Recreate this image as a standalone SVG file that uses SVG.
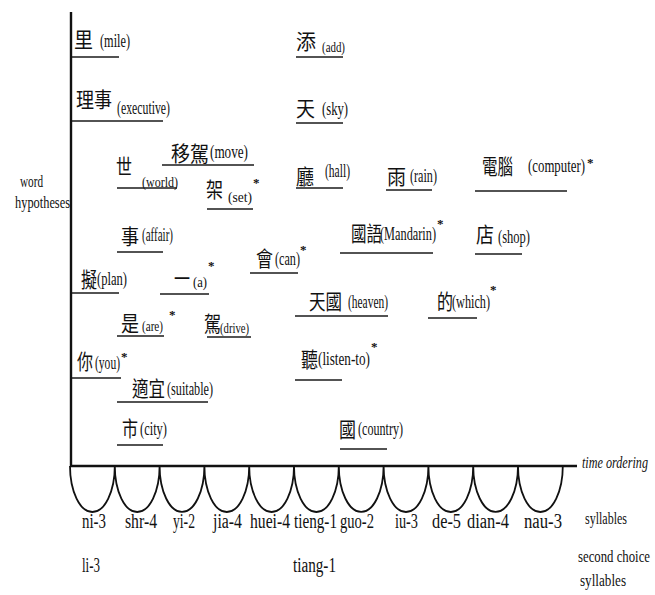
<svg xmlns="http://www.w3.org/2000/svg" width="655" height="595" viewBox="0 0 655 595">
<style>
.ax{stroke:#111;stroke-width:2.4;fill:none}
.arc{stroke:#111;stroke-width:1.8;fill:none}
.ul{stroke:#1a1a1a;stroke-width:1.7}
.cjk{font-family:"Noto Sans CJK TC","Noto Sans CJK SC",sans-serif;font-size:21px;fill:#111}
.en{font-family:"Liberation Serif",serif;font-size:18px;fill:#111}
.sm{font-size:15px}
.st{font-family:"Liberation Serif",serif;font-size:13px;fill:#111;font-weight:bold}
.sy{font-family:"Liberation Serif",serif;font-size:20px;fill:#111}
.lb{font-family:"Liberation Serif",serif;font-size:17px;fill:#111}
.it{font-style:italic}
</style>
<rect width="655" height="595" fill="#fff"/>
<g id="axes">
<line class="ax" x1="71" y1="12" x2="71" y2="467"/>
<line class="ax" x1="70" y1="466" x2="577" y2="466"/>
<path class="arc" d="M70,466 A22.4,46 0 0,0 114.8,466 A22.4,46 0 0,0 159.6,466 A22.4,46 0 0,0 204.4,466 A22.4,46 0 0,0 249.2,466 A22.4,46 0 0,0 294,466 A22.4,46 0 0,0 338.8,466 A22.4,46 0 0,0 383.6,466 A22.4,46 0 0,0 428.4,466 A22.4,46 0 0,0 473.2,466 A22.4,46 0 0,0 518,466 A22.4,46 0 0,0 562.8,466"/>
</g>
<g id="axis-labels">
<text class="lb" x="20" y="187" textLength="23" lengthAdjust="spacingAndGlyphs">word</text>
<text class="lb" x="15" y="208" textLength="55" lengthAdjust="spacingAndGlyphs">hypotheses</text>
<text class="lb it" x="582" y="468" textLength="66" lengthAdjust="spacingAndGlyphs">time ordering</text>
<text class="lb" x="585" y="524" textLength="42" lengthAdjust="spacingAndGlyphs">syllables</text>
<text class="lb" x="578" y="562" textLength="72" lengthAdjust="spacingAndGlyphs">second choice</text>
<text class="lb" x="580" y="586" textLength="46" lengthAdjust="spacingAndGlyphs">syllables</text>
</g>
<g id="syllables">
<text class="sy" x="82" y="528" textLength="24" lengthAdjust="spacingAndGlyphs">ni-3</text>
<text class="sy" x="125" y="528" textLength="32" lengthAdjust="spacingAndGlyphs">shr-4</text>
<text class="sy" x="173" y="528" textLength="22" lengthAdjust="spacingAndGlyphs">yi-2</text>
<text class="sy" x="213" y="528" textLength="29" lengthAdjust="spacingAndGlyphs">jia-4</text>
<text class="sy" x="250" y="528" textLength="40" lengthAdjust="spacingAndGlyphs">huei-4</text>
<text class="sy" x="294" y="528" textLength="43" lengthAdjust="spacingAndGlyphs">tieng-1</text>
<text class="sy" x="340" y="528" textLength="34" lengthAdjust="spacingAndGlyphs">guo-2</text>
<text class="sy" x="395" y="528" textLength="23" lengthAdjust="spacingAndGlyphs">iu-3</text>
<text class="sy" x="432" y="528" textLength="29" lengthAdjust="spacingAndGlyphs">de-5</text>
<text class="sy" x="467" y="528" textLength="42" lengthAdjust="spacingAndGlyphs">dian-4</text>
<text class="sy" x="524" y="528" textLength="38" lengthAdjust="spacingAndGlyphs">nau-3</text>
<text class="sy" x="82" y="572" textLength="18" lengthAdjust="spacingAndGlyphs">li-3</text>
<text class="sy" x="293" y="572" textLength="43" lengthAdjust="spacingAndGlyphs">tiang-1</text>
</g>
<g id="w-mile"><text class="cjk" x="74" y="47" textLength="19" lengthAdjust="spacingAndGlyphs">里</text><text class="en" x="100" y="47" textLength="30" lengthAdjust="spacingAndGlyphs">(mile)</text><line class="ul" x1="72" y1="57" x2="119" y2="57"/></g>
<g id="w-executive"><text class="cjk" x="76" y="107" textLength="36" lengthAdjust="spacingAndGlyphs">理事</text><text class="en" x="117" y="114" textLength="53" lengthAdjust="spacingAndGlyphs">(executive)</text><line class="ul" x1="72" y1="121" x2="163" y2="121"/></g>
<g id="w-world"><text class="cjk" x="116" y="174" textLength="16" lengthAdjust="spacingAndGlyphs">世</text><text class="en sm" x="142" y="187" textLength="36" lengthAdjust="spacingAndGlyphs">(world)</text><line class="ul" x1="117" y1="188" x2="177" y2="188"/></g>
<g id="w-move"><text class="cjk" x="171" y="161" textLength="38" lengthAdjust="spacingAndGlyphs">移駕</text><text class="en" x="210" y="158" textLength="38" lengthAdjust="spacingAndGlyphs">(move)</text><line class="ul" x1="162" y1="165" x2="254" y2="165"/></g>
<g id="w-set"><text class="cjk" x="206" y="197" textLength="17" lengthAdjust="spacingAndGlyphs">架</text><text class="en sm" x="228" y="202" textLength="24" lengthAdjust="spacingAndGlyphs">(set)</text><text class="st" x="253" y="187">*</text><line class="ul" x1="207" y1="209" x2="253" y2="209"/></g>
<g id="w-affair"><text class="cjk" x="121" y="244" textLength="18" lengthAdjust="spacingAndGlyphs">事</text><text class="en" x="142" y="241" textLength="31" lengthAdjust="spacingAndGlyphs">(affair)</text><line class="ul" x1="117" y1="252" x2="163" y2="252"/></g>
<g id="w-plan"><text class="cjk" x="81" y="287" textLength="16" lengthAdjust="spacingAndGlyphs">擬</text><text class="en" x="97" y="285" textLength="30" lengthAdjust="spacingAndGlyphs">(plan)</text><line class="ul" x1="72" y1="293" x2="119" y2="293"/></g>
<g id="w-a"><text class="cjk" x="174" y="286" textLength="16" lengthAdjust="spacingAndGlyphs">一</text><text class="en sm" x="193" y="287" textLength="14" lengthAdjust="spacingAndGlyphs">(a)</text><text class="st" x="208" y="270">*</text><line class="ul" x1="160" y1="294" x2="209" y2="294"/></g>
<g id="w-can"><text class="cjk" x="256" y="266" textLength="17" lengthAdjust="spacingAndGlyphs">會</text><text class="en" x="275" y="265" textLength="25" lengthAdjust="spacingAndGlyphs">(can)</text><text class="st" x="300" y="254">*</text><line class="ul" x1="250" y1="273" x2="298" y2="273"/></g>
<g id="w-are"><text class="cjk" x="121" y="331" textLength="18" lengthAdjust="spacingAndGlyphs">是</text><text class="en sm" x="142" y="331" textLength="21" lengthAdjust="spacingAndGlyphs">(are)</text><text class="st" x="169" y="319">*</text><line class="ul" x1="117" y1="336" x2="164" y2="336"/></g>
<g id="w-drive"><text class="cjk" x="204" y="331" textLength="17" lengthAdjust="spacingAndGlyphs">駕</text><text class="en sm" x="220" y="333" textLength="29" lengthAdjust="spacingAndGlyphs">(drive)</text><line class="ul" x1="207" y1="337" x2="251" y2="337"/></g>
<g id="w-you"><text class="cjk" x="77" y="369" textLength="16" lengthAdjust="spacingAndGlyphs">你</text><text class="en" x="95" y="369" textLength="25" lengthAdjust="spacingAndGlyphs">(you)</text><text class="st" x="121" y="361">*</text><line class="ul" x1="72" y1="378" x2="121" y2="378"/></g>
<g id="w-suitable"><text class="cjk" x="132" y="396" textLength="33" lengthAdjust="spacingAndGlyphs">適宜</text><text class="en" x="167" y="395" textLength="46" lengthAdjust="spacingAndGlyphs">(suitable)</text><line class="ul" x1="117" y1="402" x2="208" y2="402"/></g>
<g id="w-city"><text class="cjk" x="122" y="436" textLength="16" lengthAdjust="spacingAndGlyphs">市</text><text class="en" x="140" y="435" textLength="27" lengthAdjust="spacingAndGlyphs">(city)</text><line class="ul" x1="117" y1="445" x2="163" y2="445"/></g>
<g id="w-add"><text class="cjk" x="296" y="49" textLength="20" lengthAdjust="spacingAndGlyphs">添</text><text class="en sm" x="322" y="52" textLength="23" lengthAdjust="spacingAndGlyphs">(add)</text><line class="ul" x1="296" y1="57" x2="343" y2="57"/></g>
<g id="w-sky"><text class="cjk" x="296" y="116" textLength="19" lengthAdjust="spacingAndGlyphs">天</text><text class="en" x="322" y="115" textLength="26" lengthAdjust="spacingAndGlyphs">(sky)</text><line class="ul" x1="296" y1="123" x2="343" y2="123"/></g>
<g id="w-hall"><text class="cjk" x="296" y="184" textLength="18" lengthAdjust="spacingAndGlyphs">廳</text><text class="en" x="325" y="177" textLength="25" lengthAdjust="spacingAndGlyphs">(hall)</text><line class="ul" x1="296" y1="188" x2="343" y2="188"/></g>
<g id="w-rain"><text class="cjk" x="387" y="184" textLength="19" lengthAdjust="spacingAndGlyphs">雨</text><text class="en" x="410" y="182" textLength="27" lengthAdjust="spacingAndGlyphs">(rain)</text><line class="ul" x1="386" y1="190" x2="432" y2="190"/></g>
<g id="w-computer"><text class="cjk" x="482" y="174" textLength="31" lengthAdjust="spacingAndGlyphs">電腦</text><text class="en" x="528" y="172" textLength="57" lengthAdjust="spacingAndGlyphs">(computer)</text><text class="st" x="587" y="167">*</text><line class="ul" x1="475" y1="191" x2="567" y2="191"/></g>
<g id="w-mandarin"><text class="cjk" x="351" y="241" textLength="31" lengthAdjust="spacingAndGlyphs">國語</text><text class="en" x="380" y="240" textLength="56" lengthAdjust="spacingAndGlyphs">(Mandarin)</text><text class="st" x="437" y="228">*</text><line class="ul" x1="340" y1="253" x2="433" y2="253"/></g>
<g id="w-shop"><text class="cjk" x="476" y="242" textLength="18" lengthAdjust="spacingAndGlyphs">店</text><text class="en" x="498" y="243" textLength="32" lengthAdjust="spacingAndGlyphs">(shop)</text><line class="ul" x1="475" y1="254" x2="522" y2="254"/></g>
<g id="w-heaven"><text class="cjk" x="309" y="309" textLength="33" lengthAdjust="spacingAndGlyphs">天國</text><text class="en" x="348" y="308" textLength="40" lengthAdjust="spacingAndGlyphs">(heaven)</text><line class="ul" x1="295" y1="316" x2="388" y2="316"/></g>
<g id="w-which"><text class="cjk" x="437" y="309" textLength="16" lengthAdjust="spacingAndGlyphs">的</text><text class="en" x="452" y="308" textLength="38" lengthAdjust="spacingAndGlyphs">(which)</text><text class="st" x="490" y="294">*</text><line class="ul" x1="428" y1="318" x2="477" y2="318"/></g>
<g id="w-listen"><text class="cjk" x="301" y="367" textLength="17" lengthAdjust="spacingAndGlyphs">聽</text><text class="en" x="318" y="365" textLength="52" lengthAdjust="spacingAndGlyphs">(listen-to)</text><text class="st" x="371" y="351">*</text><line class="ul" x1="295" y1="380" x2="342" y2="380"/></g>
<g id="w-country"><text class="cjk" x="339" y="437" textLength="17" lengthAdjust="spacingAndGlyphs">國</text><text class="en" x="358" y="435" textLength="45" lengthAdjust="spacingAndGlyphs">(country)</text><line class="ul" x1="340" y1="449" x2="387" y2="449"/></g>
</svg>
